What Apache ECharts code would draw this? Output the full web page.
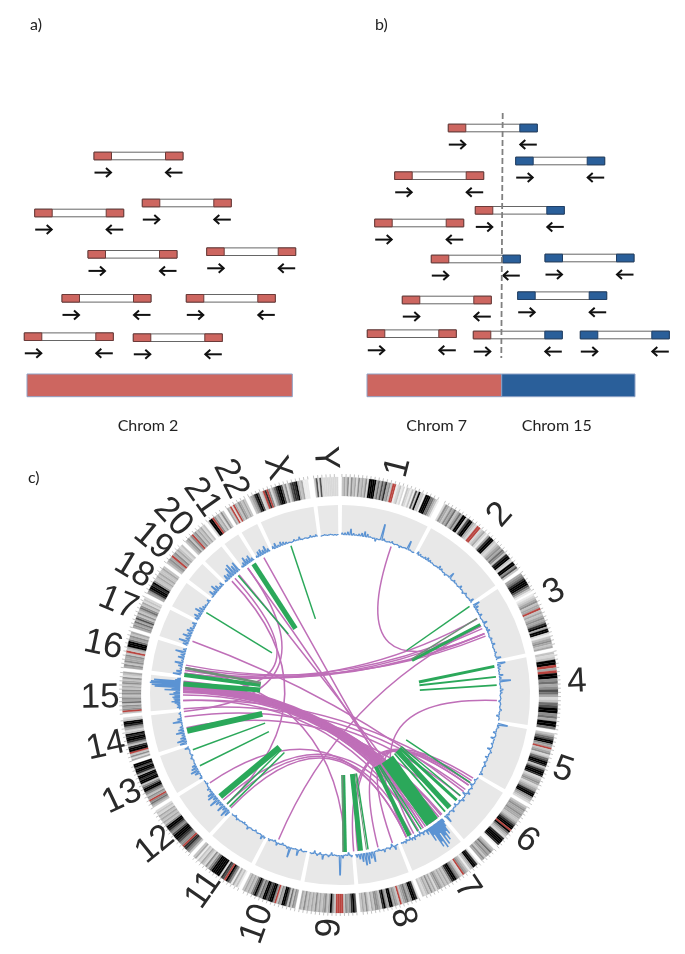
<!DOCTYPE html>
<html><head><meta charset="utf-8">
<style>html,body{margin:0;padding:0;background:#fff}#c{width:685px;height:954px;filter:blur(.35px)}</style>
<script src="https://cdn.jsdelivr.net/npm/echarts@6/dist/echarts.min.js"></script>
</head><body><div id="c"></div>
<script>
// ---------- panels a / b : read pairs [start, level, left end colour, right end colour]
const readsA = [[94,156,'r','r'],[142.3,203,'r','r'],[34.7,213,'r','r'],[88,254.3,'r','r'],[206.7,251.7,'r','r'],
  [62,298.3,'r','r'],[186.3,298.3,'r','r'],[24.3,336.7,'r','r'],[133.3,337.7,'r','r']];
const readsB = [[448.3,128,'r','b'],[515.7,161,'b','b'],[394.7,175.7,'r','r'],[475.3,210.3,'r','b'],[374.7,223,'r','r'],
  [431.3,259,'r','b'],[545,258,'b','b'],[402.3,300,'r','r'],[517.7,295.7,'b','b'],[367.3,333.7,'r','r'],
  [473.3,335,'r','b'],[580.3,335,'b','b']];
const refBars = [[27,292.3,'r'],[367,501.7,'r'],[501.7,635,'b']];
const breakLine = [[502.7,113],[501.3,358]];
const captions = [[30,25,'a)','left'],[375,25,'b)','left'],[28,478,'c)','left'],
  [148,426,'Chrom 2','center'],[436.7,426,'Chrom 7','center'],[556.7,426,'Chrom 15','center']];

// ---------- panel c : chromosomes
const chromNames = ['1','2','3','4','5','6','7','8','9','10','11','12','13','14','15','16','17','18','19','20','21','22','X','Y'];
const chromMb = [249,243,198,191,181,171,159,146,141,136,135,134,115,107,103,90,81,78,59,63,48,51,155,59];
const labelAngle = [14.3,41.6,64.3,86.9,108.6,127.8,146.7,164.2,182.5,199.9,215,231,244.9,257.7,269.3,281.9,292.5,301.2,309.5,316.8,325.1,333.2,344.5,356.4];
const labelRadius = [235,241,237.5,237.4,235.3,236.6,231,231,233,243.6,238,238,240.7,239.5,240,242,240,241,242,244,241,242,235.6,237.5];
const chromBands = [
 '3435253425343529999464758453rr12312032131739331999664310',
 '25435463464993799432rr2342148993234546538993299573',
 '45689997531012345344r34345458949921345434',
 '32399r4r995645764236799564996',
 '34679954r34523679983589982345423458995432',
 '345445443346899r9643289998100346454354',
 '2899431345r2356998534343454243534323',
 '2899546543r3454994598345534235343',
 '7985453rrrr3594354343534343534',
 '45363799453r5998799564797534343',
 '13241579r78299999753523423143',
 '35688r55789997568995343434232',
 '3465r4535699753998994899799',
 '4253r9983589989324589932',
 '3r5453645435453435435234',
 '45354453r3499964534',
 '454647535346534232',
 '45899895334343343',
 '3454r4534323',
 '34535r45343423',
 '299r534253',
 '43r2r4354343',
 '34589723r8r52468997352478894341110',
 '3727222222222'
];
const coverage = [
 [162,162,163,166,162,161,162,163,165,163,161,160,158,160,176,162,160,161,162,160,161,159,160,161,169,161,160],
 [163,162,161,162,163,162,161,160,161,163,162,160,159,161,166,160,162,161,160,163,161,159,162,160,161,164],
 [167,164,162,161,163,160,161,164,160,162,163,161,160,162,161,163,160,161,162,160,165],
 [168,163,162,161,164,162,171,160,161,163,162,160,161,159,161,160,162,160,158,161],
 [170,162,160,158,161,157,160,159,161,157,162,160,158,161,159,162,160,161,163],
 [161,159,161,158,162,160,163,157,161,163,159,161,158,160,163,160,162,168],
 [164,168,176,172,181,175,184,170,186,178,183,168,174,162,165,160,161,163,160,158,162,160,161,159,163,160,162,158,161,160,159,162,160,161,160],
 [160,164,158,162,160,163,161,159,160,170,166,171,172,168,165,163],
 [162,158,160,163,180,161,160,158,162,160,165,159,162,158,161],
 [160,161,159,166,160,161,170,162,160,159,161,163,159,160,162],
 [162,164,160,161,159,161,160,163,160,159,160,161,162,159,161],
 [166,169,164,168,163,165,170,164,168,166,162,163,161,159,160],
 [163,161,165,168,166,164,161,160,162,159,161,160,164],
 [167,169,165,163,168,165,163,161,169,164,161,162],
 [161,163,162,163,165,168,165,166,167,165,170,166,164,175,168,185,188,190,189,186,165,163],
 [168,165,162,164,168,162,166,164,170,163],
 [165,170,164,168,164,166,164,162,164],
 [164,166,163,168,165,163,162,161,163],
 [161,166,163,168,165,162,164],
 [162,166,165,170,172,168,170],
 [162,164,168,165,167,163],
 [162,165,166,164,167,163],
 [163,165,162,164,163,162,161,160,162,161,163,160,161,160,162,161,162],
 [160,161,160,161,160,160]
];
// green links: [angle at the ring, angle at the inner end, reads]
const greenLinks = [
 [326.6,326.2,5],[319.6,319.7,1.5],[341.8,342.1,1.5],[301.6,301.8,1.5],
 [277.3,277.1,4],[274,273.6,5],[256.8,256.3,6],[249.6,249.4,1.5],[243.2,242.7,1.5],
 [229.7,229.2,6],[226,227,1.5],[224.7,224,1.5],
 [178.2,177.7,4],[172.5,171.1,5],[169.7,168.2,1.5],
 [153.8,153.4,4],[148.8,150.4,1.5],[150.3,151.4,1.5],[144,143.7,14],[138,137,1.8],
 [135.8,134.2,5],[132,131.7,3],[129.9,130.1,1.5],[123.9,124.2,1.5],
 [55.6,56.2,1.5],[63.3,64.3,3],[79.5,80.6,3],[83.4,83,1.8],[86.4,86.5,1.8]
];
// grey-green links drawn on the same span
const greyLinks = [[279.9,278.7,2.5],[60.8,63.4,1.5],[178.9,178.2,1.5],[170.3,169,1]];
// purple links: [angle A, angle B, reads]
const purpleLinks = [
 [273,143,5],[272.5,144,3],[274,142,2],[271.5,145,1.8],[274.5,141,1.8],[271,146,1.8],[275,140,1.5],[270,147,1.5],[273.5,139.5,1.5],[272,148,1.5],
 [279,67,1.8],[280,64,1.5],[278,61,1.5],[278,65,1.3],[281,68,1.3],
 [19,67,1.5],[92,152,1.5],
 [290,128,1.5],[316.5,226,1.5],[318,271,1.5],[324,264,1.5],[324,148,1.5],[331,150,1.5],[320,145,1.5],
 [203,64,1.5],[268,150,1.5],[226,153,1.5],[228,150,1.5],[236,155,1.5],[224,155,1.5],
 [175,122,1.5],[173.5,123,1.5],[166,124,1.5],[160.5,125,1.5],[155,125,1.5],
 [262,130,1.5],[265,127,1.5],[268,124,1.5],[258,135,1.5],[178,280,1.5]
];
const INK = {0:'#ffffff',1:'#ececec',2:'#d8d8d8',3:'#c4c4c4',4:'#a8a8a8',5:'#8e8e8e',6:'#707070',7:'#505050',8:'#2c2c2c',9:'#000000',r:'#b8443f'};
const CAP = {r:'#cd6660',b:'#2a5f9a'};
const CAPLINE = {r:'#6b3a38',b:'#1f3f66'};
const GAP = 1, FIRST = 0.5, RING = [160.5,190], IDEO = [199,218], LINK_OUT = 157, LINK_IN = 80, BASE = 160.5;

const totalMb = chromMb.reduce((a,b)=>a+b,0);
const degPerMb = (360-GAP*chromMb.length)/totalMb;
let cursor = FIRST;
const arcs = chromMb.map(mb=>{const a=cursor,b=a+mb*degPerMb;cursor=b+GAP;return [a,b];});

// derived tables for the library
const bandData=[];chromBands.forEach((s,i)=>{const [a,b]=arcs[i];const st=(b-a)/s.length;
  s.split('').forEach((ch,j)=>bandData.push([a+j*st,a+(j+1)*st,ch]));});
const tickData=[];chromMb.forEach((mb,i)=>{for(let m=0;m<=mb;m+=10)tickData.push(arcs[i][0]+m*degPerMb);});

const rad=d=>d*Math.PI/180;
function sectorEl(api,r0,r1,a,b,style){
  const o=api.coord([0,0]),p=api.coord([1,90]);const u=Math.abs(p[0]-o[0]);
  return {type:'sector',shape:{cx:o[0],cy:o[1],r0:r0*u,r:r1*u,startAngle:rad(a-90),endAngle:rad(b-90),clockwise:true},style,silent:true};
}
function readEl(api,d){
  const [s,y,lc,rc]=d,W=89,C=17.5,H=3.8;
  const P=(x,yy)=>api.coord([x,yy]);
  const box=(x0,x1,fill,stroke)=>{const a=P(x0,y-H),b=P(x1,y+H);
    return {type:'rect',shape:{x:a[0],y:a[1],width:b[0]-a[0],height:b[1]-a[1]},style:{fill,stroke,lineWidth:1}};};
  const arrow=(x0,x1)=>{const yy=y+16.6,dir=x1>x0?1:-1;
    return [{type:'line',shape:{x1:P(x0,yy)[0],y1:P(x0,yy)[1],x2:P(x1,yy)[0],y2:P(x1,yy)[1]},style:{stroke:'#111',lineWidth:2}},
      {type:'polyline',shape:{points:[P(x1-dir*5,yy-4.5),P(x1,yy),P(x1-dir*5,yy+4.5)]},style:{fill:null,stroke:'#111',lineWidth:2}}];};
  return {type:'group',children:[box(s,s+W,'#fff','#666'),box(s,s+C,CAP[lc],CAPLINE[lc]),box(s+W-C,s+W,CAP[rc],CAPLINE[rc]),
    ...arrow(s+.5,s+C-.5),...arrow(s+W-.5,s+W-C+.5)]};
}
const custom=(extra,data,renderItem)=>Object.assign({type:'custom',data,renderItem,silent:true,clip:false,animation:false},extra);
const CART={coordinateSystem:'cartesian2d',xAxisIndex:0,yAxisIndex:0};
const POL={coordinateSystem:'polar',polarIndex:0};

const option={
 animation:false,backgroundColor:'#fff',
 grid:{left:0,right:0,top:0,bottom:0},
 xAxis:{type:'value',min:0,max:685,show:false},
 yAxis:{type:'value',min:0,max:954,inverse:true,show:false},
 polar:{center:[340,695],radius:221},
 angleAxis:{type:'value',min:0,max:360,startAngle:90,clockwise:true,show:false},
 radiusAxis:{type:'value',min:0,max:221,show:false},
 series:[
  custom(CART,readsA.concat(readsB),(p,api)=>readEl(api,(readsA.concat(readsB))[p.dataIndex])),
  custom(CART,refBars,(p,api)=>{const d=refBars[p.dataIndex],a=api.coord([d[0],374]),b=api.coord([d[1],396.7]);
    return {type:'rect',shape:{x:a[0],y:a[1],width:b[0]-a[0],height:b[1]-a[1]},style:{fill:CAP[d[2]],stroke:'#8ea2c6',lineWidth:1}};}),
  custom(CART,[0],(p,api)=>{const a=api.coord(breakLine[0]),b=api.coord(breakLine[1]);
    return {type:'line',shape:{x1:a[0],y1:a[1],x2:b[0],y2:b[1]},style:{stroke:'#808080',lineWidth:1.8,lineDash:[6,3]}};}),
  custom(CART,captions,(p,api)=>{const d=captions[p.dataIndex],a=api.coord([d[0],d[1]]);
    return {type:'text',x:a[0],y:a[1],style:{text:d[2],font:'16px Lato',fill:'#222',align:d[3],verticalAlign:'middle'}};}),
  // grey ring
  custom(POL,arcs,(p,api)=>{const d=arcs[p.dataIndex];return sectorEl(api,RING[0],RING[1],d[0]+.1,d[1]-.1,{fill:'#e8e8e8'});}),
  // ideogram
  custom(POL,bandData,(p,api)=>{const d=bandData[p.dataIndex];return sectorEl(api,IDEO[0],IDEO[1],d[0],d[1],{fill:INK[d[2]],stroke:INK[d[2]],lineWidth:.2});}),
  // ticks
  custom(POL,tickData,(p,api)=>{const a=tickData[p.dataIndex],x=api.coord([IDEO[1],a]),y=api.coord([IDEO[1]+3,a]);
    return {type:'line',shape:{x1:x[0],y1:x[1],x2:y[0],y2:y[1]},style:{stroke:'#b5b5b5',lineWidth:.8}};}),
  // coverage: a spike for every reading, on the baseline of its chromosome
  custom(POL,coverage,(p,api)=>{const i=p.dataIndex,[a,b]=arcs[i],vals=coverage[i],st=(b-a)/vals.length,pts=[];
    vals.forEach((v,j)=>{const c=a+j*st;pts.push(api.coord([BASE,c]),api.coord([v,c+.2*st]),api.coord([v,c+.4*st]),api.coord([BASE,c+.6*st]));});
    pts.push(api.coord([BASE,b]));
    return {type:'polyline',shape:{points:pts},style:{fill:null,stroke:'#5b93d3',lineWidth:1.2}};}),
  // purple
  custom(POL,purpleLinks,(p,api)=>{const d=purpleLinks[p.dataIndex],a=api.coord([LINK_OUT,d[0]]),b=api.coord([LINK_OUT,d[1]]),c=api.coord([0,0]);
    return {type:'bezierCurve',shape:{x1:a[0],y1:a[1],x2:b[0],y2:b[1],cpx1:c[0],cpy1:c[1]},style:{fill:null,stroke:'#bf6fb8',lineWidth:d[2]}};}),
  // green
  custom(POL,greenLinks,(p,api)=>{const d=greenLinks[p.dataIndex],a=api.coord([LINK_OUT,d[0]]),b=api.coord([LINK_IN,d[1]]);
    return {type:'line',shape:{x1:a[0],y1:a[1],x2:b[0],y2:b[1]},style:{stroke:'#2ba85a',lineWidth:d[2]}};}),
  custom(POL,greyLinks,(p,api)=>{const d=greyLinks[p.dataIndex],a=api.coord([LINK_OUT,d[0]]),b=api.coord([LINK_IN,d[1]]);
    return {type:'line',shape:{x1:a[0],y1:a[1],x2:b[0],y2:b[1]},style:{stroke:'#6f8f78',lineWidth:d[2]}};}),
  // chromosome names
  custom(POL,chromNames,(p,api)=>{const i=p.dataIndex,m=labelAngle[i],a=api.coord([labelRadius[i],m]);
    return {type:'text',x:a[0],y:a[1],rotation:-rad(m<180?m-90:m+90),
      style:{text:chromNames[i],font:'35px "Liberation Sans"',fill:'#2a2a2a',align:'center',verticalAlign:'middle'}};})
 ]
};
echarts.init(document.getElementById('c'),null,{renderer:'canvas'}).setOption(option);
</script></body></html>
